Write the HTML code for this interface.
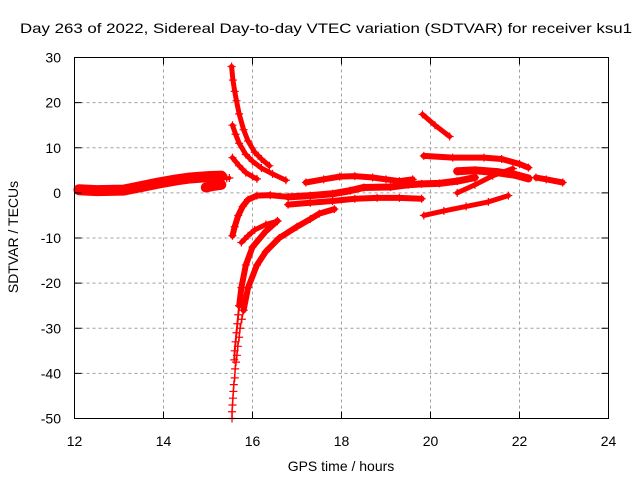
<!DOCTYPE html>
<html><head><meta charset="utf-8"><style>
html,body{margin:0;padding:0;background:#fff;}
svg{display:block;font-family:"Liberation Sans",sans-serif;}
</style></head><body>
<svg id="chart" width="640" height="480" viewBox="0 0 640 480">
<rect width="640" height="480" fill="#fff"/>
<text x="326" y="33" font-size="14" text-anchor="middle" textLength="612" lengthAdjust="spacingAndGlyphs">Day 263 of 2022, Sidereal Day-to-day VTEC variation (SDTVAR) for receiver ksu1</text>
<g id="grid"></g>
<g id="series"></g>
<rect x="74.5" y="57.5" width="534" height="361" fill="none" stroke="#000" stroke-width="1"/>
<g id="axes"></g>
<text x="341" y="471" font-size="14" text-anchor="middle">GPS time / hours</text>
<text x="0" y="0" font-size="14" text-anchor="middle" transform="translate(18,237) rotate(-90)">SDTVAR / TECUs</text>
</svg>
<script>
const xTicks = [12, 14, 16, 18, 20, 22, 24];
const yTicks = [30, 20, 10, 0, -10, -20, -30, -40, -50];
// series: hours and TECU values
const sMainT = [12.1, 12.5, 13.1, 13.5, 13.9, 14.3, 14.6, 15.0, 15.3];
const sMainV = [0.7, 0.5, 0.6, 1.4, 2.2, 2.9, 3.3, 3.6, 3.7];
const sBlobT = [14.95, 15.1, 15.3];
const sBlobV = [1.2, 1.5, 1.8];
const sDotT = [15.42, 15.48];
const sDotV = [3.2, 3.3];
const sTop1T = [15.53, 15.56, 15.6, 15.64, 15.7, 15.8, 15.9, 16.05, 16.2, 16.38];
const sTop1V = [28, 25, 22.5, 20.4, 17.5, 14, 11.5, 9, 7.5, 6];
const sTop2T = [15.55, 15.62, 15.7, 15.85, 16.0, 16.2, 16.45, 16.75];
const sTop2V = [15, 13, 11, 8.5, 7, 5.5, 4.2, 2.8];
const sTop3T = [15.55, 15.7, 15.85, 16.0, 16.1];
const sTop3V = [7.8, 6, 4.5, 3.6, 3.1];
const sNegAT = [15.55, 15.6, 15.68, 15.78, 15.9, 16.1, 16.4, 16.8];
const sNegAV = [-9.5, -7.5, -5, -3, -1.5, -0.6, -0.5, -0.9];
const sNegBT = [15.75, 15.9, 16.05, 16.3, 16.56];
const sNegBV = [-11, -9.5, -8.2, -7, -6.3];
const sNegCT = [17.84, 17.5, 17.3, 17.0, 16.6, 16.3, 16.1, 15.9, 15.8];
const sNegCV = [-3.6, -4.6, -5.8, -7.5, -10, -13, -16, -21, -26];
const sNegCThinT = [15.8, 15.76, 15.72, 15.7, 15.67, 15.65, 15.63, 15.61, 15.6, 15.58, 15.57, 15.56, 15.55, 15.54, 15.54];
const sNegCThinV = [-26, -28, -30, -32, -34, -36, -37.5, -39, -41, -42.5, -44, -45.5, -47, -48.5, -50];
const sNegET = [16.56, 16.3, 16.0, 15.85, 15.75, 15.7];
const sNegEV = [-6.2, -8.5, -12, -16, -21, -25];
const sNegEThinT = [15.7, 15.68, 15.66, 15.64, 15.62, 15.6, 15.59];
const sNegEThinV = [-25, -27, -29, -31, -33, -35, -37];
const sUpT = [17.2, 17.6, 17.96, 18.3, 18.7, 19.0, 19.3, 19.6];
const sUpV = [2.3, 3.0, 3.6, 3.7, 3.4, 3.0, 2.6, 3.0];
const sMidT = [16.8, 17.3, 17.8, 18.2, 18.5, 19.1, 19.5, 19.8, 20.2, 20.6, 21.0];
const sMidV = [-0.9, -0.6, -0.2, 0.5, 1.2, 1.3, 1.8, 2.0, 2.1, 2.6, 3.4];
const sLowT = [16.8, 17.3, 17.8, 18.3, 18.8, 19.3, 19.8];
const sLowV = [-2.6, -2.2, -1.8, -1.3, -1.1, -1.1, -1.3];
const sDiagT = [19.82, 20.1, 20.43];
const sDiagV = [17.4, 15, 12.5];
const sHiT = [19.85, 20.5, 21.2, 21.6, 22.0, 22.2];
const sHiV = [8.2, 7.8, 7.8, 7.5, 6.4, 5.6];
const sBandT = [20.6, 21.0, 21.5, 21.9, 22.2];
const sBandV = [4.8, 5.0, 4.6, 4.0, 3.2];
const sRiseT = [20.6, 21.0, 21.4, 21.85];
const sRiseV = [0.0, 1.8, 3.8, 5.4];
const sBotT = [19.85, 20.3, 20.8, 21.3, 21.75];
const sBotV = [-5, -4, -3, -2, -0.6];
const sTailT = [22.37, 22.6, 22.97];
const sTailV = [3.4, 3.0, 2.3];

const L = 74.5, R = 608.5, T = 57.5, B = 418.5;
const xS = t => L + (t - 12) / 12 * (R - L);
const yS = v => T + (30 - v) / 80 * (B - T);
const NS = "http://www.w3.org/2000/svg";
const grid = document.getElementById('grid');
const axes = document.getElementById('axes');
const ser = document.getElementById('series');
function mk(tag, attrs, parent) {
  const e = document.createElementNS(NS, tag);
  for (const k in attrs) e.setAttribute(k, attrs[k]);
  parent.appendChild(e);
  return e;
}
xTicks.forEach(t => {
  const x = xS(t);
  if (t > 12 && t < 24) {
    const g = mk('line', {x1: x, x2: x, y1: T, y2: B, stroke: '#a0a0a0', 'stroke-dasharray': '3,3'}, grid);
    
    
  }
  const a = mk('line', {x1: x, x2: x, y1: B, y2: B - 7, stroke: '#000'}, axes);
  
  
  const b = mk('line', {x1: x, x2: x, y1: T, y2: T + 7, stroke: '#000'}, axes);
  
  
  const lb = mk('text', {x: x, y: 446, 'font-size': 14, 'text-anchor': 'middle'}, axes);
  lb.textContent = t;
  
  
});
yTicks.forEach(v => {
  const y = yS(v);
  if (v < 30 && v > -50) {
    const g = mk('line', {x1: L, x2: R, y1: y, y2: y, stroke: '#a0a0a0', 'stroke-dasharray': '3,3'}, grid);
    
    
  }
  const a = mk('line', {x1: L, x2: L + 7, y1: y, y2: y, stroke: '#000'}, axes);
  
  
  const b = mk('line', {x1: R, x2: R - 7, y1: y, y2: y, stroke: '#000'}, axes);
  
  
  const lb = mk('text', {x: 61, y: y + 5, 'font-size': 14, 'text-anchor': 'end'}, axes);
  lb.textContent = v;
  
  
});
function drawSeries(ts, vs, w, name, plus) {
  const pts = ts.map((t, i) => xS(t) + ',' + yS(vs[i])).join(' ');
  const p = mk('polyline', {points: pts, fill: 'none', stroke: '#ff0000', 'stroke-width': w, 'stroke-linecap': 'round', 'stroke-linejoin': 'round'}, ser);
  
  
  ts.forEach((t, i) => {
    const x = xS(t), y = yS(vs[i]);
    const m = mk('path', {d: `M${x - 4},${y}h8M${x},${y - 4}v8`, stroke: '#ff0000', 'stroke-width': 1.2}, ser);
    
    
  });
}
drawSeries(sMainT, sMainV, 11, 'series-main-band', true);
drawSeries(sBlobT, sBlobV, 10, 'series-blob', true);
drawSeries(sDotT, sDotV, 4, 'series-small', true);
drawSeries(sTop1T, sTop1V, 5, 'series-top-1', true);
drawSeries(sTop2T, sTop2V, 5, 'series-top-2', true);
drawSeries(sTop3T, sTop3V, 5, 'series-top-3', true);
drawSeries(sNegAT, sNegAV, 6, 'series-neg-a', true);
drawSeries(sNegBT, sNegBV, 5, 'series-neg-b', true);
drawSeries(sNegCT, sNegCV, 6, 'series-neg-c', true);
drawSeries(sNegCThinT, sNegCThinV, 1.5, 'series-neg-c-tail', true);
drawSeries(sNegET, sNegEV, 6, 'series-neg-e', true);
drawSeries(sNegEThinT, sNegEThinV, 2, 'series-neg-e-tail', true);
drawSeries(sUpT, sUpV, 6, 'series-upper', true);
drawSeries(sMidT, sMidV, 7, 'series-middle', true);
drawSeries(sLowT, sLowV, 6, 'series-lower', true);
drawSeries(sDiagT, sDiagV, 5, 'series-diagonal', true);
drawSeries(sHiT, sHiV, 6, 'series-high', true);
drawSeries(sBandT, sBandV, 8, 'series-band', true);
drawSeries(sRiseT, sRiseV, 5, 'series-rise', true);
drawSeries(sBotT, sBotV, 5, 'series-bottom', true);
drawSeries(sTailT, sTailV, 6, 'series-tail', true);
</script>
</body></html>
